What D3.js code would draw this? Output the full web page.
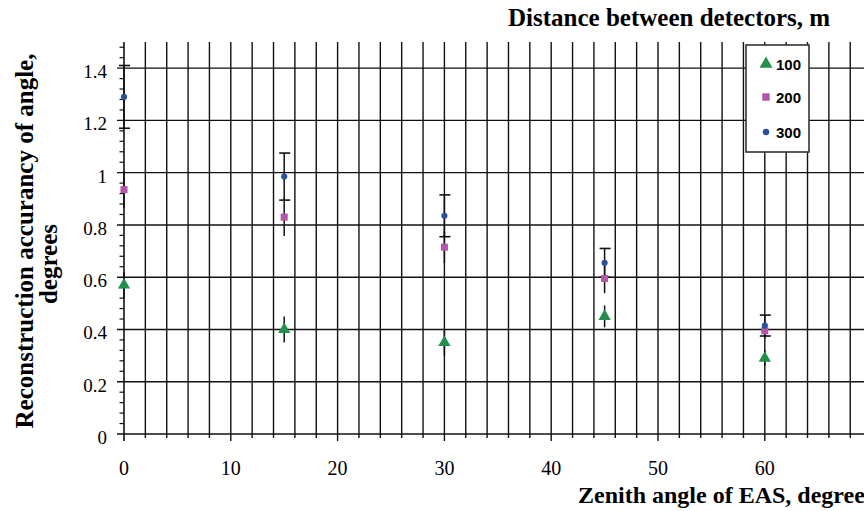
<!DOCTYPE html>
<html><head><meta charset="utf-8">
<script src="https://cdn.jsdelivr.net/npm/d3@7"></script>
<style>body{margin:0;background:#fff;overflow:hidden}svg{display:block}</style>
</head><body>
<script>
const angles = [0, 15, 30, 45, 60];
const s100 = [0.57, 0.40, 0.35, 0.45, 0.29];
const e100 = [0.05, 0.05, 0.05, 0.042, 0.03];
const s200 = [0.935, 0.83, 0.715, 0.595, 0.395];
const e200 = [0.07, 0.072, 0.06, 0.056, 0.03];
const s300 = [1.29, 0.985, 0.835, 0.655, 0.415];
const e300 = [0.12, 0.09, 0.08, 0.055, 0.04];
const seriesNames = ["100", "200", "300"];
const xTicks = [0, 10, 20, 30, 40, 50, 60];
const yTicks = [0, 0.2, 0.4, 0.6, 0.8, 1, 1.2, 1.4];

const W = 864, H = 511;
const svg = d3.select("body").append("svg").attr("width", W).attr("height", H);
const x = d3.scaleLinear().domain([0, 70]).range([124, 871.6]);
const y = d3.scaleLinear().domain([0, 1.5]).range([434, 42]);
const serif = "'Liberation Serif','DejaVu Serif',serif";

// vertical gridlines every 2 degrees
const g = svg.append("g");
g.selectAll(".vg").data(d3.range(2, 72, 2)).join("line")
  .attr("x1", d => x(d)).attr("x2", d => x(d)).attr("y1", y(1.5)).attr("y2", d => y(0) + (d % 10 === 0 ? 7 : 4))
  .attr("stroke", "#111").attr("stroke-width", 1.4);
// horizontal gridlines
g.selectAll(".hg").data(yTicks).join("line")
  .attr("x1", 117).attr("x2", W).attr("y1", d => y(d)).attr("y2", d => y(d))
  .attr("stroke", "#111").attr("stroke-width", 1.4);
// y minor ticks
g.selectAll(".ym").data(d3.range(0, 38).map(i => i * 0.04).filter(v => Math.abs(v * 5 - Math.round(v * 5)) > 1e-6))
  .join("line").attr("x1", 119.5).attr("x2", 124).attr("y1", d => y(d)).attr("y2", d => y(d))
  .attr("stroke", "#111").attr("stroke-width", 1.2);
// y axis line
g.append("line").attr("x1", x(0)).attr("x2", x(0)).attr("y1", y(1.5)).attr("y2", y(0) + 7)
  .attr("stroke", "#111").attr("stroke-width", 1.6);

// tick labels
svg.selectAll(".xl").data(xTicks).join("text")
  .attr("x", d => x(d)).attr("y", 475).attr("text-anchor", "middle")
  .attr("font-family", serif).attr("font-size", 20).attr("fill", "#000").text(d => d);
svg.selectAll(".yl").data(yTicks).join("text")
  .attr("x", 107).attr("y", d => y(d) + 10).attr("text-anchor", "end")
  .attr("font-family", serif).attr("font-size", 19).attr("fill", "#000").text(d => d);

// titles
svg.append("text").attr("x", 508).attr("y", 26).attr("font-family", serif).attr("font-weight", "bold")
  .attr("font-size", 25).text("Distance between detectors, m");
svg.append("text").attr("x", 578).attr("y", 503).attr("font-family", serif).attr("font-weight", "bold")
  .attr("font-size", 24).text("Zenith angle of EAS, degrees");
svg.append("text").attr("transform", "translate(33,241) rotate(-90)").attr("text-anchor", "middle")
  .attr("font-family", serif).attr("font-weight", "bold").attr("font-size", 25)
  .text("Reconstruction accurancy of angle,");
svg.append("text").attr("transform", "translate(57,264) rotate(-90)").attr("text-anchor", "middle")
  .attr("font-family", serif).attr("font-weight", "bold").attr("font-size", 25).text("degrees");

// error bars
const series = [
  {vals: s100, errs: e100, caps: false, color: "#22904a", shape: d3.symbolTriangle, size: 65},
  {vals: s200, errs: e200, caps: false, color: "#b456a8", shape: d3.symbolSquare, size: 50},
  {vals: s300, errs: e300, caps: true, color: "#2e4fa0", shape: d3.symbolCircle, size: 30}
];
const eb = svg.append("g");
series.forEach(s => {
  angles.forEach((a, i) => {
    const cx = x(a);
    eb.append("line").attr("x1", cx).attr("x2", cx).attr("y1", y(s.vals[i] - s.errs[i])).attr("y2", y(s.vals[i] + s.errs[i]))
      .attr("stroke", "#111").attr("stroke-width", 1.5);
    if (s.caps) {
      [s.vals[i] - s.errs[i], s.vals[i] + s.errs[i]].forEach(v => {
        eb.append("line").attr("x1", cx - 5).attr("x2", cx + 6).attr("y1", y(v)).attr("y2", y(v))
          .attr("stroke", "#111").attr("stroke-width", 1.6);
      });
    }
  });
});
// markers
series.forEach(s => {
  svg.append("g").selectAll("path").data(angles).join("path")
    .attr("transform", (a, i) => `translate(${x(a)},${y(s.vals[i])})`)
    .attr("d", d3.symbol().type(s.shape).size(s.size)).attr("fill", s.color);
});

// legend
const lg = svg.append("g");
lg.append("rect").attr("x", 746).attr("y", 45).attr("width", 63).attr("height", 107)
  .attr("fill", "#fff").attr("stroke", "#333").attr("stroke-width", 1.6);
const ly = [64, 97, 132];
series.forEach((s, i) => {
  lg.append("path").attr("transform", `translate(766,${ly[i]})`).attr("d", d3.symbol().type(s.shape).size(s.size * 1.1)).attr("fill", s.color);
  lg.append("text").attr("x", 776).attr("y", ly[i] + 5.5).attr("font-family", "'Liberation Sans',Arial,sans-serif")
    .attr("font-weight", "bold").attr("font-size", 15).text(seriesNames[i]);
});
</script>
</body></html>
